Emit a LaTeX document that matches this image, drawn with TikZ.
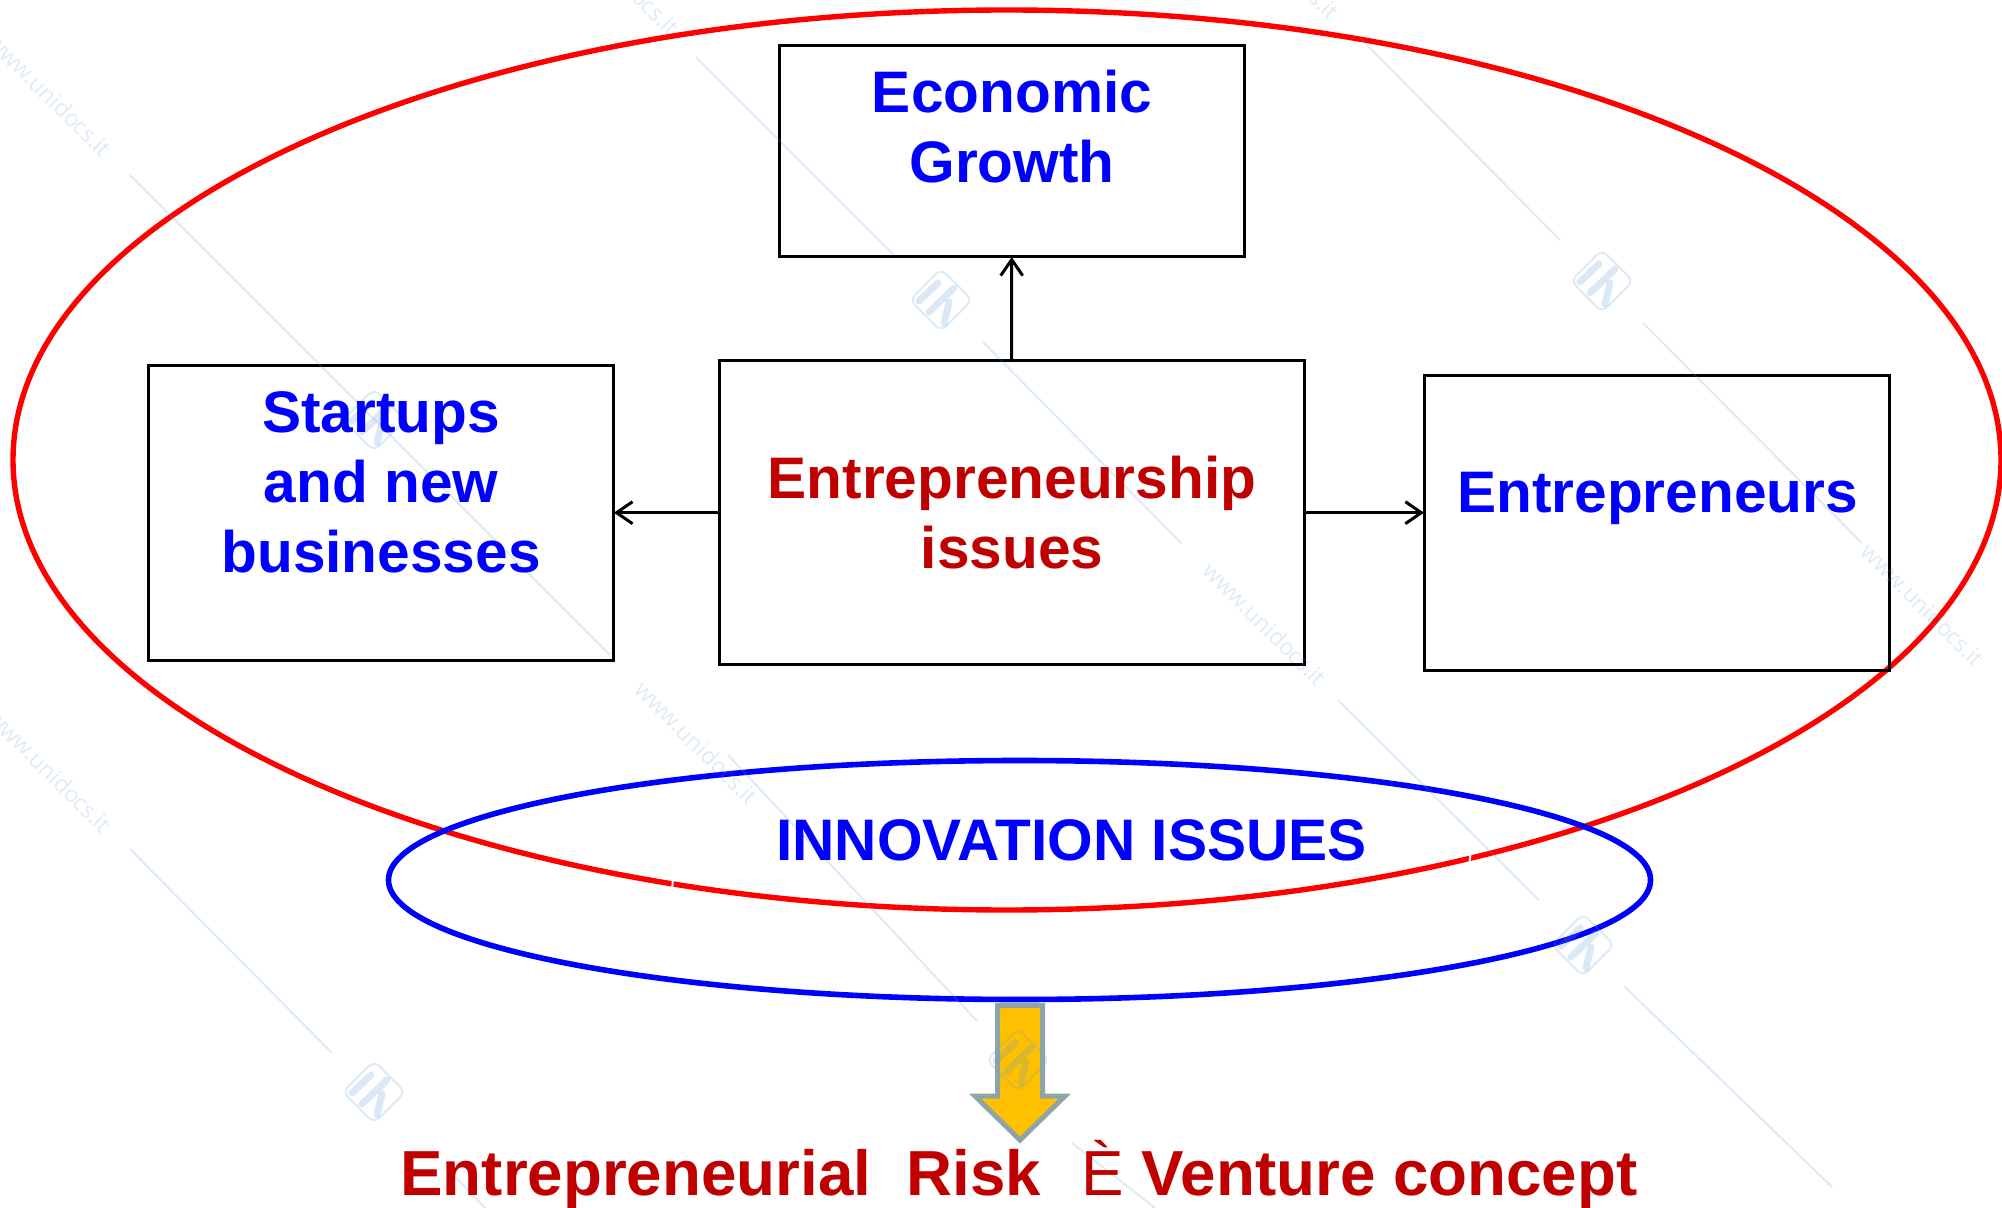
\documentclass[tikz,border=0pt]{standalone}
\usepackage{fontspec}
\setmainfont{Liberation Sans}
\newfontfamily\wmfont{Open Sans}
\usetikzlibrary{arrows.meta}
\definecolor{darkred}{HTML}{C00000}
\definecolor{wmblue}{HTML}{5B9BD5}
\definecolor{arrowfill}{HTML}{FFC000}
\definecolor{arrowedge}{HTML}{8EA5A8}
\tikzset{
  boxnode/.style={draw=black,line width=1.5pt,inner sep=0pt,outer sep=0pt,anchor=north west},
  conn/.style={draw=black,line width=1.5pt,-{Straight Barb[length=8pt,width=11pt,line width=1.5pt]}},
  bluetext/.style={text=blue,font=\fontsize{29.3pt}{35pt}\selectfont\bfseries,align=center,inner sep=0pt},
  redtext/.style={text=darkred,font=\fontsize{29.3pt}{35pt}\selectfont\bfseries,align=center,inner sep=0pt},
  wmline/.style={draw=wmblue,opacity=.2,line width=1pt},
  wmtext/.style={text=wmblue,text opacity=.2,font=\wmfont\fontsize{11.5pt}{13pt}\selectfont,rotate=-45,inner sep=0pt},
  gaptick/.style={draw=white,line width=1pt},
  wmlogo/.pic={
    \draw[draw=wmblue,opacity=.2,line width=1pt,rounded corners=3.5pt,rotate=45] (-22,-22) rectangle (22,22);
    \draw[draw=wmblue,opacity=.22,line width=3.5pt,line cap=round] (-3,-17) -- (-22,1);
    \draw[draw=wmblue,opacity=.22,line width=3.5pt,line cap=round] (13,-12) -- (-12,12);
    \draw[draw=wmblue,opacity=.22,line width=3.5pt,line cap=round] (8,2) -- (3,23);
  }
}
\begin{document}
\begin{tikzpicture}[x=.5pt,y=-.5pt]
\useasboundingbox (0,0) rectangle (2002,1208);
% ellipses
\draw[red,line width=2.7pt] (1007,460) ellipse [x radius=994,y radius=450];
\coordinate (gapa1) at (673,877); \coordinate (gapa2) at (672,893);
\coordinate (gapb1) at (1471,850); \coordinate (gapb2) at (1469,866);
\draw[gaptick] (gapa1) -- (gapa2);
\draw[gaptick] (gapb1) -- (gapb2);
\draw[blue,line width=2.8pt] (1019.5,880) ellipse [x radius=631,y radius=119.5];
% boxes
\node[boxnode,minimum width=232.7pt,minimum height=105.5pt] (econ) at (779,46) {};
\node[boxnode,minimum width=232.7pt,minimum height=147.5pt] (start) at (148.5,365.5) {};
\node[boxnode,minimum width=292.6pt,minimum height=151.7pt] (centerbox) at (719,361) {};
\node[boxnode,minimum width=232.7pt,minimum height=147.5pt] (entre) at (1424,375.5) {};
% connectors
\draw[conn] (centerbox.north) -- (econ.south);
\draw[conn] (centerbox.west) -- (centerbox.west -| start.east);
\draw[conn] (centerbox.east) -- (centerbox.east -| entre.west);
% block arrow
\draw[fill=arrowfill,draw=arrowedge,line width=2.5pt,miter limit=10]
  (997.5,1005.5) -- (1042.5,1005.5) -- (1042.5,1096) -- (1065,1096) -- (1020,1140)
  -- (975,1096) -- (997.5,1096) -- cycle;
% watermark
\foreach \px/\py/\qx/\qy in {130/175/610/655, 696/57/894/255, 983/342/1181/543, 1360/38/1560/240, 1643/323/1862/543, 1338/700/1539/900, 130/849/332/1053, 728/755/977/1021, 1624/986/1832/1187, 1072/1143/1155/1208, 447/1168/485/1208}
  \draw[wmline] (\px,\py) -- (\qx,\qy);
\foreach \lx/\ly in {941/300, 1602/281, 374/1092, 1018/1060, 1583/945, 374/420}
  \pic at (\lx,\ly) {wmlogo};
\foreach \tx/\ty in {50/95, 50/771, 697/743, 1265/624, 1923/605, 618/-26, 1278/-42}
  \node[wmtext] at (\tx,\ty) {www.unidocs.it};
% labels
\node[bluetext] (econlabel) at (1012,127) {Economic\\Growth};
\node[bluetext] (startlabel) at (381,482.5) {Startups\\and new\\businesses};
\node[redtext] (centerlabel) at (1012,513) {Entrepreneurship\\issues};
\node[bluetext] (entrelabel) at (1657.5,498) {Entrepreneurs};
\node[bluetext] (innov) at (1071.5,840) {INNOVATION ISSUES};
% bottom line
\node[anchor=base,inner sep=0pt,text=darkred,font=\fontsize{31.85pt}{36pt}\selectfont] (bottom) at (1019,1195)
  {\bfseries Entrepreneurial\ \ Risk\hspace{20.3pt}{\mdseries È}\ Venture concept};
\end{tikzpicture}
\end{document}
